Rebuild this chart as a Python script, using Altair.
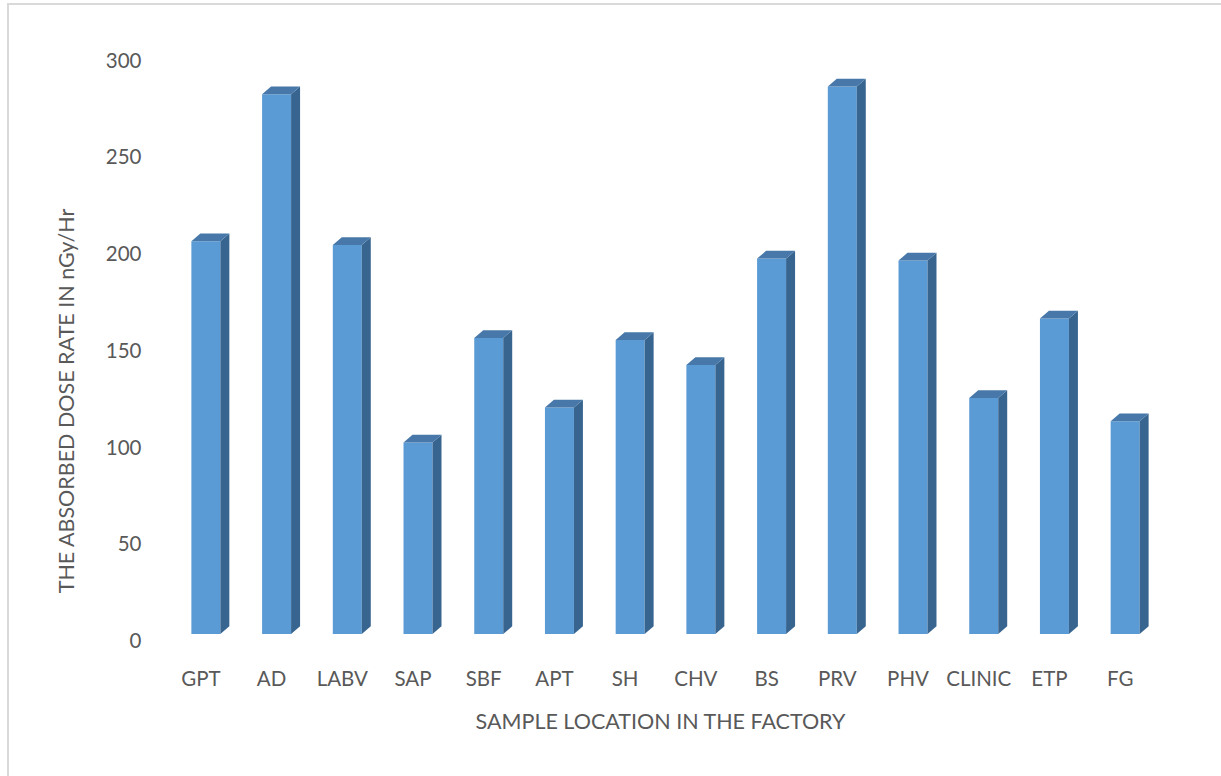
import json
import altair as alt
import pandas as pd

categories = ["GPT", "AD", "LABV", "SAP", "SBF", "APT", "SH", "CHV", "BS", "PRV", "PHV", "CLINIC", "ETP", "FG"]
dose_rate = [203, 279, 201, 99, 153, 117, 152, 139, 194, 283, 193, 122, 163, 110]
y_ticks = [0, 50, 100, 150, 200, 250, 300]

FONT = "Lato"
TXT = "#595959"
FRONT = "#5B9BD5"
SIDE = "#386590"
TOP = "#4778A9"

XL, XR, D, S = -0.127, 0.283, 0.127, 4.0

front_df = pd.DataFrame({
    "cat": categories,
    "x0": [i + XL for i in range(len(categories))],
    "x1": [i + XR for i in range(len(categories))],
    "v": dose_rate,
})

side_rows, top_rows = [], []
for i, (c, v) in enumerate(zip(categories, dose_rate)):
    for k in (0, 1):
        side_rows.append({"cat": c, "k": k, "px": i + XR + k * D, "pu": v + k * S, "pl": k * S})
    xs = [i + XL, i + XL + D, i + XR, i + XR + D]
    ups = [v, v + S, v + S, v + S]
    lows = [v, v, v, v + S]
    for k in range(4):
        top_rows.append({"cat": c, "k": k, "px": xs[k], "pu": ups[k], "pl": lows[k]})
side_df = pd.DataFrame(side_rows)
top_df = pd.DataFrame(top_rows)

xscale = alt.Scale(domain=[-0.5, len(categories) - 0.5], nice=False, zero=False)
yscale = alt.Scale(domain=[0, 300], nice=False)

label_expr = json.dumps(categories) + "[datum.value]"

x_axis = alt.Axis(values=list(range(len(categories))), labelExpr=label_expr,
                  title="SAMPLE LOCATION IN THE FACTORY", grid=False, domain=False,
                  ticks=False, tickSize=0, labelPadding=35, titlePadding=22,
                  labelFontSize=20.5, titleFontSize=21.5, labelFont=FONT, titleFont=FONT,
                  labelColor=TXT, titleColor=TXT, titleFontWeight="normal",
                  labelBaseline="top")
y_axis = alt.Axis(values=y_ticks, title="THE ABSORBED DOSE RATE IN nGy/Hr",
                  grid=False, domain=False, ticks=False, tickSize=0,
                  labelPadding=24, labelOffset=7.5, labelFontSize=20.5,
                  titleFontSize=21.5, labelFont=FONT, titleFont=FONT,
                  labelColor=TXT, titleColor=TXT, titleFontWeight="normal",
                  titleX=-98, titleY=347, titleAlign="center",
                  titleBaseline="middle", titleAngle=-90)

front = alt.Chart(front_df).mark_rect(color=FRONT).encode(
    x=alt.X("x0:Q", scale=xscale, axis=x_axis, title="SAMPLE LOCATION IN THE FACTORY"),
    x2="x1:Q",
    y=alt.Y("v:Q", scale=yscale, axis=y_axis, title="THE ABSORBED DOSE RATE IN nGy/Hr"),
    y2=alt.datum(0),
)


def face(df, color):
    return alt.Chart(df).mark_area(color=color, orient="vertical").encode(
        x=alt.X("px:Q", scale=xscale, axis=x_axis, title="SAMPLE LOCATION IN THE FACTORY"),
        y=alt.Y("pu:Q", scale=yscale, axis=y_axis, title="THE ABSORBED DOSE RATE IN nGy/Hr"),
        y2=alt.Y2("pl:Q"),
        detail="cat:N",
    )


side = face(side_df, SIDE)
top = face(top_df, TOP)

frame_df = pd.DataFrame({"a": [0]})
frame_left = alt.Chart(frame_df).mark_rule(color="#D9D9D9", strokeWidth=2).encode(
    x=alt.value(-157), y=alt.value(-49.5), y2=alt.value(800)
)
frame_top = alt.Chart(frame_df).mark_rule(color="#D9D9D9", strokeWidth=2).encode(
    x=alt.value(-158), x2=alt.value(1200), y=alt.value(-49.5)
)

chart = alt.layer(frame_left, frame_top, front, side, top).properties(
    width=990, height=580.5,
    autosize=alt.AutoSizeParams(type="none"),
    padding={"left": 165, "top": 53.5, "right": 66, "bottom": 142},
    background="white",
).configure_view(stroke=None)

chart.save("out.html", embed_options={"renderer": "svg", "actions": False})
